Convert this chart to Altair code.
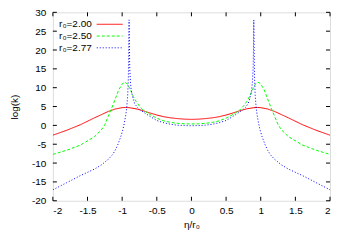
import altair as alt
import pandas as pd

series_names = ["r₀=2.00", "r₀=2.50", "r₀=2.77"]
series_colors = ["#ff0000", "#00ff00", "#0000ff"]
series_dashes = [[1, 0], [3, 2], [1, 2]]

red_x = [-2.0, -1.8, -1.6, -1.4, -1.2, -1.1, -1.0, -0.95, -0.9, -0.8, -0.7, -0.6, -0.5, -0.4, -0.3, -0.2, -0.1, 0.0,
         0.1, 0.2, 0.3, 0.4, 0.5, 0.6, 0.7, 0.8, 0.9, 0.95, 1.0, 1.1, 1.2, 1.4, 1.6, 1.8, 2.0]
red_y = [-2.6, -1.3, 0.2, 2.0, 3.7, 4.35, 4.7, 4.75, 4.7, 4.4, 3.9, 3.3, 2.75, 2.3, 2.0, 1.8, 1.65, 1.6,
         1.65, 1.8, 2.0, 2.3, 2.75, 3.3, 3.9, 4.4, 4.7, 4.75, 4.7, 4.35, 3.7, 2.0, 0.2, -1.3, -2.6]

green_x = [-2.0, -1.8, -1.6, -1.4, -1.3, -1.25, -1.2, -1.15, -1.1, -1.05, -1.0, -0.96, -0.92, -0.88, -0.84, -0.8,
           -0.75, -0.7, -0.6, -0.5, -0.4, -0.3, -0.2, -0.1, 0.0,
           0.1, 0.2, 0.3, 0.4, 0.5, 0.6, 0.7, 0.75, 0.8, 0.84, 0.88, 0.92, 0.96, 1.0, 1.05, 1.1, 1.15, 1.2,
           1.25, 1.3, 1.4, 1.6, 1.8, 2.0]
green_y = [-7.7, -6.6, -5.2, -3.0, -1.2, 0.2, 2.4, 4.6, 7.0, 9.4, 11.0, 11.5, 10.9, 9.4, 7.7, 6.4,
           5.1, 4.1, 2.9, 1.9, 1.2, 0.8, 0.55, 0.42, 0.38,
           0.42, 0.55, 0.8, 1.2, 1.9, 2.9, 4.1, 5.1, 6.4, 7.7, 9.4, 10.9, 11.5, 11.0, 9.4, 7.0, 4.6, 2.4,
           0.2, -1.2, -3.0, -5.2, -6.6, -7.7]

blue_x = [-2.0, -1.8, -1.6, -1.4, -1.3, -1.2, -1.14, -1.1, -1.06, -1.02, -0.99, -0.97, -0.95, -0.935, -0.92,
          -0.91, -0.905, -0.9, -0.895, -0.89, -0.88, -0.87, -0.86, -0.84, -0.82, -0.78, -0.74, -0.7, -0.6,
          -0.5, -0.4, -0.3, -0.2, -0.1, 0.0,
          0.1, 0.2, 0.3, 0.4, 0.5, 0.6, 0.7, 0.74, 0.78, 0.82, 0.84, 0.86, 0.87, 0.88, 0.89, 0.895, 0.9,
          0.905, 0.91, 0.92, 0.935, 0.95, 0.97, 0.99, 1.02, 1.06, 1.1, 1.14, 1.2, 1.3, 1.4, 1.6, 1.8, 2.0]
blue_y = [-17.1, -15.2, -13.3, -11.6, -10.5, -9.0, -7.8, -6.6, -5.0, -3.0, -1.2, 0.5, 2.5, 4.5, 8.0,
          13.0, 20.0, 28.0, 20.0, 15.0, 11.5, 9.5, 8.5, 7.0, 5.8, 4.8, 4.1, 3.6, 2.4,
          1.3, 0.7, 0.3, 0.05, -0.05, -0.1,
          -0.05, 0.05, 0.3, 0.7, 1.3, 2.4, 3.6, 4.1, 4.8, 5.8, 7.0, 8.5, 9.5, 11.5, 15.0, 20.0, 28.0,
          20.0, 13.0, 8.0, 4.5, 2.5, 0.5, -1.2, -3.0, -5.0, -6.6, -7.8, -9.0, -10.5, -11.6, -13.3, -15.2, -17.1]

x_ticks = [-2, -1.5, -1, -0.5, 0, 0.5, 1, 1.5, 2]
y_ticks = [-20, -15, -10, -5, 0, 5, 10, 15, 20, 25, 30]

W, H = 278, 189
FONT = "Liberation Sans"

rows = []
for name, xs, ys in zip(series_names, [red_x, green_x, blue_x], [red_y, green_y, blue_y]):
    for xv, yv in zip(xs, ys):
        rows.append({"series": name, "eta": xv, "logk": yv})
df = pd.DataFrame(rows)

xscale = alt.Scale(domain=[-2, 2], nice=False, zero=False)
yscale = alt.Scale(domain=[-20, 30], nice=False, zero=False)

xaxis = alt.Axis(values=x_ticks, labelExpr="'' + datum.value", domain=False, ticks=False, tickSize=0,
                 grid=False, labelPadding=5, labelFontSize=10, labelFont=FONT, labelColor="black",
                 title="η/r₀", titleFont=FONT, titleFontSize=10, titleFontWeight="normal",
                 titleColor="black", titleX=W / 2, titleY=24, titleBaseline="middle", titleAlign="center")
yaxis = alt.Axis(values=y_ticks, labelExpr="'' + datum.value", domain=False, ticks=False, tickSize=0,
                 grid=False, labelPadding=7, labelFontSize=10, labelFont=FONT, labelColor="black",
                 title="log(k)", titleFont=FONT, titleFontSize=10, titleFontWeight="normal",
                 titleColor="black", titleX=-38, titleY=H / 2, titleBaseline="middle", titleAlign="center",
                 titleAngle=270)

lines = alt.Chart(df).mark_line(strokeWidth=1, clip=True).encode(
    x=alt.X("eta:Q", scale=xscale, axis=xaxis),
    y=alt.Y("logk:Q", scale=yscale, axis=yaxis),
    color=alt.Color("series:N", scale=alt.Scale(domain=series_names, range=series_colors), legend=None),
    strokeDash=alt.StrokeDash("series:N", scale=alt.Scale(domain=series_names, range=series_dashes), legend=None),
    order=alt.Order("eta:Q"),
)

xt = pd.DataFrame({"eta": x_ticks})
yt = pd.DataFrame({"logk": y_ticks})

tick_layers = [
    alt.Chart(xt).mark_rule(color="black", strokeWidth=1).encode(
        x=alt.X("eta:Q", scale=xscale, axis=xaxis), y=alt.value(0), y2=alt.value(4)),
    alt.Chart(xt).mark_rule(color="black", strokeWidth=1).encode(
        x=alt.X("eta:Q", scale=xscale, axis=xaxis), y=alt.value(H - 4), y2=alt.value(H)),
    alt.Chart(yt).mark_rule(color="black", strokeWidth=1).encode(
        y=alt.Y("logk:Q", scale=yscale, axis=yaxis), x=alt.value(0), x2=alt.value(4)),
    alt.Chart(yt).mark_rule(color="black", strokeWidth=1).encode(
        y=alt.Y("logk:Q", scale=yscale, axis=yaxis), x=alt.value(W - 4), x2=alt.value(W)),
]

legend_layers = []
row_y = [12, 23.8, 35.6]
for name, col, dsh, ry in zip(series_names, series_colors, series_dashes, row_y):
    ldf = pd.DataFrame({"series": [name]})
    legend_layers.append(
        alt.Chart(ldf).mark_text(align="right", baseline="middle", fontSize=10, font=FONT, color="black").encode(
            x=alt.value(39), y=alt.value(ry), text="series:N"))
    legend_layers.append(
        alt.Chart(ldf).mark_rule(color=col, strokeWidth=1, strokeDash=dsh).encode(
            x=alt.value(44), x2=alt.value(70), y=alt.value(ry)))

chart = alt.layer(lines, *tick_layers, *legend_layers).properties(
    width=W, height=H,
    autosize=alt.AutoSizeParams(type="none"),
    padding={"left": 45, "top": 4, "right": 8, "bottom": 33},
).configure_view(stroke="black", strokeWidth=1).configure(font=FONT, background="white")

chart.save("out.html", embed_options={"renderer": "svg", "actions": False})
